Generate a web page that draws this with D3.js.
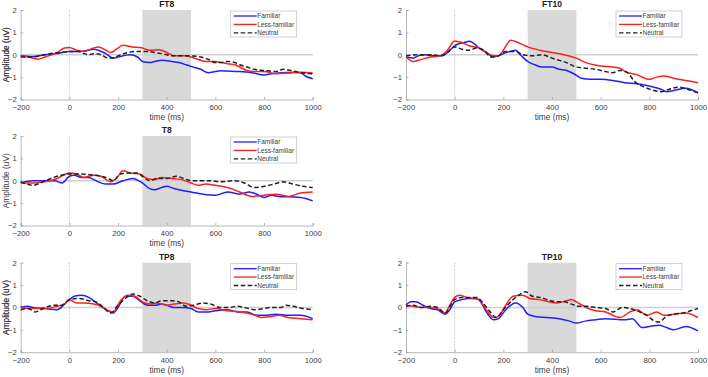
<!DOCTYPE html>
<html><head><meta charset="utf-8">
<script src="https://cdn.jsdelivr.net/npm/d3@7"></script>
<style>
html,body{margin:0;padding:0;background:#fff;}
svg{display:block;font-family:"Liberation Sans",Arial,sans-serif;}
</style></head>
<body>
<svg id="c" width="708" height="377"></svg>
<script>
// ---------- data ----------
const xTicks = [-200, 0, 200, 400, 600, 800, 1000];
const yTicks = [-2, -1, 0, 1, 2];
const seriesNames = ["Familiar", "Less-familiar", "Neutral"];
const window_ms = [300, 500];
const panelNames = ["FT8", "FT10", "T8", "TP8", "TP10"];

// [time ms, amplitude uV]
const FT8_familiar = [[-200,-0.05],[-150,-0.08],[-100,0.0],[-50,0.05],[0,0.15],[50,0.15],[100,0.25],[150,0.05],[180,-0.15],[200,-0.1],[250,0.0],[280,-0.1],[300,-0.3],[330,-0.35],[350,-0.3],[380,-0.25],[420,-0.3],[450,-0.35],[480,-0.45],[500,-0.52],[540,-0.65],[570,-0.8],[600,-0.75],[620,-0.72],[650,-0.73],[700,-0.75],[750,-0.8],[800,-0.9],[830,-0.85],[870,-0.8],[920,-0.78],[950,-0.8],[970,-0.95],[1000,-1.07]];
const FT8_less = [[-200,-0.05],[-150,-0.15],[-130,-0.2],[-100,-0.1],[-50,0.1],[-20,0.3],[0,0.32],[30,0.2],[60,0.15],[100,0.3],[120,0.35],[150,0.2],[170,0.1],[200,0.3],[220,0.42],[260,0.35],[300,0.3],[330,0.2],[370,0.22],[400,0.1],[430,-0.05],[470,-0.05],[500,-0.1],[540,-0.25],[560,-0.3],[600,-0.3],[620,-0.35],[650,-0.4],[680,-0.45],[700,-0.55],[730,-0.7],[760,-0.75],[800,-0.75],[850,-0.85],[900,-0.82],[950,-0.78],[1000,-0.82]];
const FT8_neutral = [[-200,-0.1],[-150,-0.1],[-100,0.0],[-60,0.08],[-30,0.1],[0,0.15],[40,0.15],[60,0.05],[80,0.0],[100,0.05],[130,0.0],[160,-0.15],[180,-0.15],[200,-0.05],[240,0.1],[280,0.15],[320,0.15],[350,0.1],[380,0.05],[400,0.0],[420,-0.05],[460,-0.05],[500,-0.05],[540,-0.1],[570,-0.2],[600,-0.35],[620,-0.35],[650,-0.3],[680,-0.35],[700,-0.45],[730,-0.55],[760,-0.65],[800,-0.7],[850,-0.75],[880,-0.65],[900,-0.68],[950,-0.8],[1000,-0.85]];

const FT10_familiar = [[-200,-0.1],[-170,-0.15],[-150,-0.05],[-120,0.0],[-90,-0.05],[-50,-0.05],[-30,0.1],[0,0.4],[20,0.5],[40,0.55],[60,0.6],[80,0.5],[100,0.3],[130,0.1],[160,-0.1],[180,-0.05],[200,0.05],[230,0.15],[250,0.2],[270,0.0],[300,-0.3],[330,-0.45],[360,-0.55],[400,-0.55],[430,-0.65],[460,-0.7],[490,-0.85],[520,-1.05],[560,-1.1],[600,-1.1],[650,-1.15],[700,-1.25],[750,-1.3],[800,-1.4],[850,-1.55],[870,-1.65],[900,-1.6],[950,-1.5],[1000,-1.7]];
const FT10_less = [[-200,-0.1],[-170,-0.3],[-150,-0.25],[-100,-0.1],[-60,-0.05],[-30,0.2],[0,0.62],[30,0.55],[60,0.4],[100,0.3],[130,0.1],[160,-0.05],[180,-0.05],[200,0.2],[230,0.65],[260,0.55],[300,0.35],[350,0.2],[400,0.1],[450,0.0],[500,-0.15],[540,-0.35],[600,-0.5],[650,-0.55],[680,-0.6],[700,-0.75],[750,-0.9],[800,-1.1],[830,-1.0],[860,-0.95],[900,-1.05],[950,-1.15],[1000,-1.25]];
const FT10_neutral = [[-200,-0.05],[-150,0.0],[-100,0.0],[-60,-0.05],[-30,0.1],[0,0.35],[30,0.25],[60,0.2],[90,0.3],[120,0.2],[150,-0.1],[180,-0.05],[210,0.15],[250,0.15],[280,0.0],[320,-0.05],[360,0.0],[400,-0.15],[430,-0.25],[460,-0.35],[500,-0.55],[540,-0.6],[580,-0.65],[620,-0.75],[650,-0.8],[680,-0.7],[710,-0.8],[740,-1.2],[780,-1.45],[820,-1.6],[850,-1.65],[880,-1.55],[920,-1.45],[960,-1.55],[1000,-1.7]];

const T8_familiar = [[-200,-0.1],[-150,0.0],[-100,0.0],[-60,0.0],[-30,-0.1],[0,0.2],[20,0.25],[50,0.15],[80,0.15],[100,0.05],[150,-0.15],[180,-0.15],[220,0.0],[260,0.1],[300,-0.1],[330,-0.35],[350,-0.4],[380,-0.3],[400,-0.25],[430,-0.35],[470,-0.45],[500,-0.5],[550,-0.6],[600,-0.65],[650,-0.5],[700,-0.6],[740,-0.5],[770,-0.6],[800,-0.75],[830,-0.65],[870,-0.72],[900,-0.72],[950,-0.75],[1000,-0.9]];
const T8_less = [[-200,-0.1],[-150,-0.1],[-100,-0.05],[-50,0.1],[0,0.35],[30,0.3],[60,0.15],[100,0.25],[130,0.2],[170,-0.05],[200,0.2],[220,0.45],[250,0.35],[290,0.3],[320,0.1],[350,0.05],[380,0.15],[420,0.1],[460,0.05],[500,-0.1],[530,-0.2],[560,-0.15],[600,-0.2],[650,-0.3],[700,-0.5],[750,-0.7],[800,-0.65],[850,-0.6],[900,-0.7],[950,-0.55],[1000,-0.5]];
const T8_neutral = [[-200,-0.05],[-150,-0.2],[-100,0.0],[-50,0.2],[0,0.3],[50,0.3],[100,0.25],[130,0.2],[160,0.1],[180,0.0],[210,0.3],[250,0.35],[280,0.35],[300,0.2],[330,0.0],[360,0.1],[400,0.1],[440,0.2],[470,0.1],[500,0.0],[540,0.0],[580,0.0],[620,-0.05],[680,0.0],[720,-0.1],[760,-0.3],[800,-0.25],[840,-0.15],[880,-0.05],[920,-0.15],[960,-0.25],[1000,-0.3]];

const TP8_familiar = [[-200,0.0],[-170,0.05],[-150,0.0],[-100,-0.05],[-50,-0.1],[-20,0.15],[0,0.35],[20,0.5],[50,0.55],[80,0.45],[100,0.3],[130,0.05],[160,-0.15],[180,-0.25],[200,0.0],[230,0.5],[260,0.5],[290,0.3],[320,0.1],[350,0.1],[380,0.15],[400,0.1],[430,0.0],[470,0.0],[500,-0.05],[530,-0.2],[570,-0.2],[600,-0.15],[650,-0.1],[690,-0.2],[730,-0.2],[770,-0.35],[800,-0.35],[850,-0.3],[900,-0.35],[950,-0.35],[1000,-0.5]];
const TP8_less = [[-200,0.05],[-170,-0.05],[-140,-0.05],[-100,-0.05],[-50,0.05],[-20,0.15],[0,0.35],[30,0.2],[60,0.2],[100,0.15],[130,0.05],[160,-0.15],[180,-0.2],[210,0.3],[240,0.55],[270,0.5],[300,0.25],[330,0.15],[360,0.2],[400,0.1],[430,0.15],[470,0.2],[500,0.1],[530,-0.05],[560,-0.1],[600,-0.05],[650,-0.15],[700,-0.2],[750,-0.3],[790,-0.45],[830,-0.4],[860,-0.35],[900,-0.45],[950,-0.5],[1000,-0.55]];
const TP8_neutral = [[-200,-0.1],[-170,-0.05],[-140,-0.2],[-100,0.0],[-60,0.1],[-30,0.1],[0,0.35],[40,0.4],[80,0.3],[110,0.25],[140,0.0],[170,-0.25],[200,0.1],[230,0.4],[260,0.6],[290,0.5],[320,0.3],[350,0.2],[380,0.3],[420,0.3],[450,0.25],[480,0.05],[510,0.1],[550,0.2],[580,0.15],[620,0.0],[660,0.0],[690,0.05],[720,0.0],[760,-0.1],[800,-0.05],[830,0.0],[870,0.0],[890,0.1],[920,0.05],[960,-0.05],[1000,-0.1]];

const TP10_familiar = [[-200,0.1],[-180,0.25],[-160,0.25],[-130,0.1],[-100,-0.05],[-70,-0.1],[-40,-0.3],[-20,-0.1],[0,0.25],[30,0.35],[60,0.4],[90,0.4],[110,0.2],[130,-0.2],[160,-0.55],[180,-0.5],[210,-0.1],[250,0.2],[280,0.0],[300,-0.3],[330,-0.4],[380,-0.45],[430,-0.5],[470,-0.6],[500,-0.7],[540,-0.6],[580,-0.55],[620,-0.5],[700,-0.55],[730,-0.5],[770,-0.9],[800,-0.85],[840,-0.8],[870,-0.9],[900,-1.0],[950,-0.85],[1000,-1.05]];
const TP10_less = [[-200,0.1],[-170,0.05],[-140,0.0],[-100,0.0],[-60,-0.1],[-40,-0.25],[-20,0.1],[0,0.45],[20,0.55],[50,0.45],[80,0.4],[100,0.35],[130,-0.1],[160,-0.45],[180,-0.4],[210,0.1],[240,0.5],[280,0.55],[310,0.4],[350,0.35],[390,0.25],[420,0.2],[460,0.3],[480,0.35],[500,0.25],[540,0.0],[580,-0.15],[620,-0.2],[660,-0.4],[680,-0.45],[720,-0.2],[750,-0.1],[790,-0.35],[830,-0.2],[860,-0.35],[900,-0.3],[950,-0.25],[1000,-0.45]];
const TP10_neutral = [[-200,0.05],[-170,0.1],[-140,0.0],[-100,0.05],[-70,0.0],[-40,-0.25],[0,0.35],[30,0.45],[60,0.45],[90,0.45],[120,0.15],[150,-0.25],[170,-0.45],[200,-0.1],[240,0.35],[270,0.6],[290,0.7],[320,0.5],[350,0.45],[380,0.35],[420,0.25],[450,0.25],[480,0.15],[510,0.05],[540,0.05],[580,0.0],[620,-0.05],[650,-0.2],[690,0.0],[720,-0.05],[760,-0.2],[790,-0.35],[820,-0.6],[840,-0.65],[870,-0.4],[900,-0.3],[940,-0.25],[970,-0.15],[1000,-0.05]];

const panelSeries = {
  FT8: [FT8_familiar, FT8_less, FT8_neutral],
  FT10: [FT10_familiar, FT10_less, FT10_neutral],
  T8: [T8_familiar, T8_less, T8_neutral],
  TP8: [TP8_familiar, TP8_less, TP8_neutral],
  TP10: [TP10_familiar, TP10_less, TP10_neutral]
};

// ---------- layout / style ----------
const layout = {
  FT8: {left: 20.7, top: 10},
  FT10: {left: 406, top: 10},
  T8: {left: 20.7, top: 136},
  TP8: {left: 20.7, top: 262.7},
  TP10: {left: 406, top: 262.7}
};
const PW = 292, PH = 89.5;
const colors = ["#1f1fff", "#ff1f1f", "#222222"];
const dashes = [null, null, "4.5,2.5"];
const axisColor = "#a6a6a6";
const textColor = "#404040";

const svg = d3.select("#c");

panelNames.forEach(name => {
  const L = layout[name];
  const g = svg.append("g").attr("transform", `translate(${L.left},${L.top})`);
  const x = d3.scaleLinear().domain([-200, 1000]).range([0, PW]);
  const y = d3.scaleLinear().domain([-2, 2]).range([PH, 0]);

  // shaded window
  g.append("rect").attr("x", x(window_ms[0])).attr("y", y(2))
    .attr("width", x(window_ms[1]) - x(window_ms[0])).attr("height", y(-2) - y(2))
    .attr("fill", "#d9d9d9");

  // zero line
  g.append("line").attr("x1", x(-200)).attr("x2", x(1000)).attr("y1", y(0)).attr("y2", y(0))
    .attr("stroke", "#cfcfcf").attr("stroke-width", 1.6);
  // stimulus onset
  g.append("line").attr("x1", x(0)).attr("x2", x(0)).attr("y1", y(2)).attr("y2", y(-2))
    .attr("stroke", "#9a9a9a").attr("stroke-width", 0.6).attr("stroke-dasharray", "1.2,1.2");

  // axes
  const xa = g.append("g").attr("transform", `translate(0,${PH})`)
    .call(d3.axisBottom(x).tickValues(xTicks).tickSize(-2.5).tickPadding(4).tickFormat(d3.format("d")));
  const ya = g.append("g")
    .call(d3.axisLeft(y).tickValues(yTicks).tickSize(-2.5).tickPadding(4).tickFormat(d3.format("d")));
  [xa, ya].forEach(a => {
    a.select(".domain").attr("stroke", axisColor).attr("stroke-width", 0.8);
    a.selectAll(".tick line").attr("stroke", axisColor).attr("stroke-width", 0.8);
    a.selectAll(".tick text").attr("fill", textColor).style("font-size", "7.7px")
      .style("font-family", "Liberation Sans, Arial, sans-serif");
  });
  xa.selectAll(".tick text").attr("dy", "0.85em");

  // lines
  const line = d3.line().x(d => x(d[0])).y(d => y(d[1])).curve(d3.curveMonotoneX);
  panelSeries[name].forEach((s, i) => {
    g.append("path").datum(s).attr("d", line).attr("fill", "none")
      .attr("stroke", colors[i]).attr("stroke-width", 1.5)
      .attr("stroke-dasharray", dashes[i]);
  });

  // title
  g.append("text").attr("x", PW / 2).attr("y", -3).attr("text-anchor", "middle")
    .attr("fill", "#222").style("font-size", "8.5px").style("font-weight", "bold").text(name);

  // axis labels
  g.append("text").attr("x", PW / 2).attr("y", PH + 20.5).attr("text-anchor", "middle")
    .attr("fill", textColor).style("font-size", "8.3px").text("time (ms)");
  g.append("text").attr("transform", `translate(${-L.left + 8.5},${PH / 2}) rotate(-90)`)
    .attr("text-anchor", "middle").attr("fill", textColor).style("font-size", "8.3px")
    .text("Amplitude (uV)");

  // legend
  const lw = 66, lh = 26;
  const lg = g.append("g").attr("transform", `translate(${PW - 16 - lw},1)`);
  lg.append("rect").attr("width", lw).attr("height", lh).attr("fill", "#fff")
    .attr("stroke", "#bdbdbd").attr("stroke-width", 0.7);
  seriesNames.forEach((n, i) => {
    const yy = 5 + i * 8.4;
    lg.append("line").attr("x1", 3).attr("x2", 26).attr("y1", yy).attr("y2", yy)
      .attr("stroke", colors[i]).attr("stroke-width", 1.3).attr("stroke-dasharray", dashes[i]);
    lg.append("text").attr("x", 26.5).attr("y", yy).attr("dy", "0.35em")
      .attr("fill", textColor).style("font-size", "6.5px").text(n);
  });
});
</script>
</body></html>
